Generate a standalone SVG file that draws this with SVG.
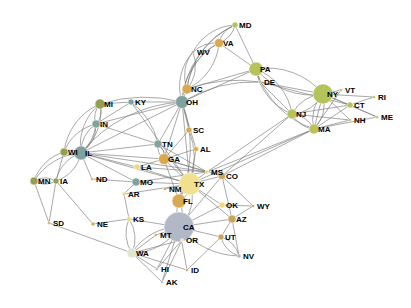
<svg xmlns="http://www.w3.org/2000/svg" width="411" height="308" viewBox="0 0 411 308">
<style>
.e path{fill:none;stroke:#7a7a7a;stroke-width:.65}
.n circle{stroke:#fff;stroke-width:.5}
.n text{font-family:"Liberation Sans",Arial,sans-serif;font-size:8px;font-weight:bold;fill:#000}
.g1{fill:#b6c25a}.g2{fill:#939f4e}.tl{fill:#7fa2a1}.or{fill:#d9a94f}.ye{fill:#f0d97c}.tx{fill:#f1e08e}.tn{fill:#c9a45c}.ca{fill:#b3b8c6}.sm{fill:#b0a080}.wa{fill:#e1e6cf}
</style>
<rect width="411" height="308" fill="#fff"/>
<g class="e" id="links">
<path d="M235 25A24 24 0 0 1 219 43M219 43A24 24 0 0 1 235 25"/>
<path d="M193 52A50 50 0 0 1 235 25"/>
<path d="M187 89A80 80 0 0 1 235 25"/>
<path d="M182 102A93 93 0 0 1 235 25"/>
<path d="M235 25L256 69"/>
<path d="M219 43A35 35 0 0 0 193 52"/>
<path d="M219 43A56 56 0 0 1 187 89M187 89A56 56 0 0 1 219 43"/>
<path d="M182 102A70 70 0 0 1 219 43"/>
<path d="M219 43L256 69"/>
<path d="M187 89A37 37 0 0 1 193 52M193 52A37 37 0 0 1 187 89"/>
<path d="M182 102A51 51 0 0 1 193 52"/>
<path d="M187 89L182 102"/>
<path d="M187 89L256 69"/>
<path d="M182 102L256 69"/>
<path d="M182 102A140 140 0 0 1 260 82"/>
<path d="M187 89A150 150 0 0 1 260 82"/>
<path d="M256 69L260 82"/>
<path d="M256 69A72 72 0 0 1 323 94M323 94A72 72 0 0 1 256 69"/>
<path d="M256 69A58 58 0 0 1 292 114M292 114A58 58 0 0 1 256 69"/>
<path d="M256 69A90 90 0 0 0 314 129"/>
<path d="M260 82L292 114"/>
<path d="M260 82L323 94"/>
<path d="M260 82L350 105"/>
<path d="M323 94A37 37 0 0 1 292 114M292 114A37 37 0 0 1 323 94"/>
<path d="M323 94A36 36 0 0 1 314 129M314 129A36 36 0 0 1 323 94M323 94L314 129"/>
<path d="M323 94L341 90M323 94L350 105M323 94L374 97M323 94L350 120M323 94L377 117"/>
<path d="M350 105L374 97M350 105L377 117M314 129L350 105M314 129L350 120M314 129L377 117M314 129L341 90M292 114L350 105M292 114L350 120"/>
<path d="M292 114A27 27 0 0 1 314 129M314 129A27 27 0 0 1 292 114"/>
<path d="M100 104L131 102"/>
<path d="M100 104A150 150 0 0 1 182 102"/>
<path d="M100 104A20 20 0 0 1 96 124M96 124A20 20 0 0 1 100 104"/>
<path d="M100 104A52 52 0 0 1 81 153M81 153A52 52 0 0 1 100 104"/>
<path d="M64 152A60 60 0 0 1 100 104"/>
<path d="M131 102L182 102"/>
<path d="M131 102A70 70 0 0 1 158 144"/>
<path d="M131 102L96 124"/>
<path d="M96 124L182 102"/>
<path d="M96 124A33 33 0 0 1 81 153M81 153A33 33 0 0 1 96 124M81 153A45 45 0 0 0 96 124"/>
<path d="M64 152A45 45 0 0 1 96 124"/>
<path d="M81 153A17 17 0 0 1 64 152M64 152A17 17 0 0 1 81 153"/>
<path d="M81 153A140 140 0 0 1 182 102M81 153L182 102"/>
<path d="M34 181A60 60 0 0 1 81 153"/>
<path d="M81 153A37 37 0 0 1 56 181M56 181A37 37 0 0 1 81 153"/>
<path d="M81 153L92 179M81 153L136 182M81 153L164 159M81 153L190 184M81 153L137 167M81 153L207 172M81 153L158 144"/>
<path d="M34 181A45 45 0 0 1 64 152"/>
<path d="M64 152L56 181"/>
<path d="M34 181A22 22 0 0 1 56 181M56 181A22 22 0 0 1 34 181"/>
<path d="M34 181L49 223M56 181L49 223M56 181L93 224"/>
<path d="M92 179L136 182"/>
<path d="M182 102L158 144M182 102L164 159M182 102L190 184M182 102L189 130M182 102L196 149M182 102A130 130 0 0 1 179 201"/>
<path d="M131 102L190 184M96 124L158 144"/>
<path d="M158 144A16 16 0 0 1 164 159M164 159A16 16 0 0 1 158 144"/>
<path d="M158 144L190 184M158 144L207 172"/>
<path d="M189 130L164 159M189 130A80 80 0 0 1 190 184"/>
<path d="M196 149L164 159M196 149L190 184"/>
<path d="M164 159L190 184M164 159L179 201M164 159L137 167M164 159L207 172M164 159L222 176"/>
<path d="M137 167L190 184M137 167L207 172"/>
<path d="M136 182L190 184M136 182L124 194M136 182L207 172"/>
<path d="M124 194L129 219M124 194L190 184"/>
<path d="M165 189L190 184"/>
<path d="M190 184L222 176M190 184L207 172M190 184L222 205M190 184L232 219"/>
<path d="M190 184A40 40 0 0 1 179 227M179 227A40 40 0 0 1 190 184"/>
<path d="M190 184A18 18 0 0 1 179 201M179 201A18 18 0 0 1 190 184"/>
<path d="M179 201A26 26 0 0 1 179 227"/>
<path d="M222 176L253 206M222 176L232 219M222 176L179 227"/>
<path d="M222 205L253 206M222 205L179 227"/>
<path d="M232 219L179 227M232 219L221 237M232 219L253 206M232 219L239 256"/>
<path d="M221 237A26 26 0 0 1 239 256M239 256A26 26 0 0 1 221 237"/>
<path d="M221 237L179 227M221 237L187 270"/>
<path d="M179 227A80 80 0 0 0 239 256"/>
<path d="M179 227L182 240M179 227L156 235M179 227L157 269M179 227L187 270M179 227L162 282"/>
<path d="M179 227A55 55 0 0 1 132 253M132 253A55 55 0 0 1 179 227"/>
<path d="M132 253L182 240M132 253L49 223M132 253L157 269M132 253L187 270M132 253L156 235M132 253L162 282"/>
<path d="M132 253A35 35 0 0 1 129 219M129 219A35 35 0 0 1 132 253"/>
<path d="M129 219L93 224M129 219L179 227"/>
<path d="M207 172L292 114M222 176L292 114M222 176L314 129M190 184L314 129M207 172L314 129"/>
<path d="M182 240L162 282M157 269L182 240"/>
</g>
<g class="n" id="MD"><circle cx="235" cy="25" r="3" class="g1"/><text x="239" y="28">MD</text></g>
<g class="n" id="VA"><circle cx="219" cy="43" r="4.5" class="or"/><text x="223" y="46">VA</text></g>
<g class="n" id="WV"><circle cx="193" cy="52" r="1.5" class="sm"/><text x="197" y="55">WV</text></g>
<g class="n" id="PA"><circle cx="256" cy="69" r="7" class="g1"/><text x="260" y="72">PA</text></g>
<g class="n" id="DE"><circle cx="260" cy="82" r="1.5" class="g1"/><text x="264" y="85">DE</text></g>
<g class="n" id="OH"><circle cx="182" cy="102" r="6.5" class="tl"/><text x="186" y="105">OH</text></g>
<g class="n" id="NC"><circle cx="187" cy="89" r="5" class="or"/><text x="191" y="92">NC</text></g>
<g class="n" id="NY"><circle cx="323" cy="94" r="10" class="g1"/><text x="327" y="97">NY</text></g>
<g class="n" id="VT"><circle cx="341" cy="90" r="1.5" class="g1"/><text x="345" y="93">VT</text></g>
<g class="n" id="CT"><circle cx="350" cy="105" r="3" class="g1"/><text x="354" y="108">CT</text></g>
<g class="n" id="RI"><circle cx="374" cy="97" r="1.5" class="g1"/><text x="378" y="100">RI</text></g>
<g class="n" id="ME"><circle cx="377" cy="117" r="1.5" class="g1"/><text x="381" y="120">ME</text></g>
<g class="n" id="NH"><circle cx="350" cy="120" r="1.5" class="g1"/><text x="354" y="123">NH</text></g>
<g class="n" id="NJ"><circle cx="292" cy="114" r="5" class="g1"/><text x="296" y="117">NJ</text></g>
<g class="n" id="MA"><circle cx="314" cy="129" r="5" class="g1"/><text x="318" y="132">MA</text></g>
<g class="n" id="MI"><circle cx="100" cy="104" r="5" class="g2"/><text x="104" y="107">MI</text></g>
<g class="n" id="KY"><circle cx="131" cy="102" r="3" class="tl"/><text x="135" y="105">KY</text></g>
<g class="n" id="IN"><circle cx="96" cy="124" r="4" class="tl"/><text x="100" y="127">IN</text></g>
<g class="n" id="IL"><circle cx="81" cy="153" r="7" class="tl"/><text x="85" y="156">IL</text></g>
<g class="n" id="WI"><circle cx="64" cy="152" r="4" class="g2"/><text x="68" y="155">WI</text></g>
<g class="n" id="IA"><circle cx="56" cy="181" r="3" class="g2"/><text x="60" y="184">IA</text></g>
<g class="n" id="MN"><circle cx="34" cy="181" r="4" class="g2"/><text x="38" y="184">MN</text></g>
<g class="n" id="ND"><circle cx="92" cy="179" r="1.5" class="or"/><text x="96" y="182">ND</text></g>
<g class="n" id="SD"><circle cx="49" cy="223" r="1.5" class="or"/><text x="53" y="226">SD</text></g>
<g class="n" id="NE"><circle cx="93" cy="224" r="2" class="or"/><text x="97" y="227">NE</text></g>
<g class="n" id="KS"><circle cx="129" cy="219" r="2.5" class="ye"/><text x="133" y="222">KS</text></g>
<g class="n" id="TN"><circle cx="158" cy="144" r="4" class="tl"/><text x="162" y="147">TN</text></g>
<g class="n" id="SC"><circle cx="189" cy="130" r="3" class="or"/><text x="193" y="133">SC</text></g>
<g class="n" id="AL"><circle cx="196" cy="149" r="2.5" class="or"/><text x="200" y="152">AL</text></g>
<g class="n" id="GA"><circle cx="164" cy="159" r="5.5" class="or"/><text x="168" y="162">GA</text></g>
<g class="n" id="LA"><circle cx="137" cy="167" r="3" class="ye"/><text x="141" y="170">LA</text></g>
<g class="n" id="CO"><circle cx="222" cy="176" r="3.5" class="tn"/><text x="226" y="179">CO</text></g>
<g class="n" id="MS"><circle cx="207" cy="172" r="2" class="ye"/><text x="211" y="175">MS</text></g>
<g class="n" id="MO"><circle cx="136" cy="182" r="4" class="tl"/><text x="140" y="185">MO</text></g>
<g class="n" id="AR"><circle cx="124" cy="194" r="2" class="ye"/><text x="128" y="197">AR</text></g>
<g class="n" id="TX"><circle cx="190" cy="184" r="11" class="tx"/><text x="194" y="187">TX</text></g>
<g class="n" id="NM"><circle cx="165" cy="189" r="1.5" class="tn"/><text x="169" y="192">NM</text></g>
<g class="n" id="CA"><circle cx="179" cy="227" r="15" class="ca"/><text x="183" y="230">CA</text></g>
<g class="n" id="FL"><circle cx="179" cy="201" r="7" class="or"/><text x="183" y="204">FL</text></g>
<g class="n" id="OK"><circle cx="222" cy="205" r="3" class="ye"/><text x="226" y="208">OK</text></g>
<g class="n" id="WY"><circle cx="253" cy="206" r="1.5" class="tn"/><text x="257" y="209">WY</text></g>
<g class="n" id="AZ"><circle cx="232" cy="219" r="4" class="tn"/><text x="236" y="222">AZ</text></g>
<g class="n" id="MT"><circle cx="156" cy="235" r="1.5" class="tn"/><text x="160" y="238">MT</text></g>
<g class="n" id="OR"><circle cx="182" cy="240" r="1.5" class="wa"/><text x="186" y="243">OR</text></g>
<g class="n" id="UT"><circle cx="221" cy="237" r="3" class="tn"/><text x="225" y="240">UT</text></g>
<g class="n" id="NV"><circle cx="239" cy="256" r="2" class="ca"/><text x="243" y="259">NV</text></g>
<g class="n" id="WA"><circle cx="132" cy="253" r="5" class="wa"/><text x="136" y="256">WA</text></g>
<g class="n" id="HI"><circle cx="157" cy="269" r="1.5" class="ca"/><text x="161" y="272">HI</text></g>
<g class="n" id="ID"><circle cx="187" cy="270" r="1.5" class="tn"/><text x="191" y="273">ID</text></g>
<g class="n" id="AK"><circle cx="162" cy="282" r="1.5" class="ca"/><text x="166" y="285">AK</text></g>
</svg>
